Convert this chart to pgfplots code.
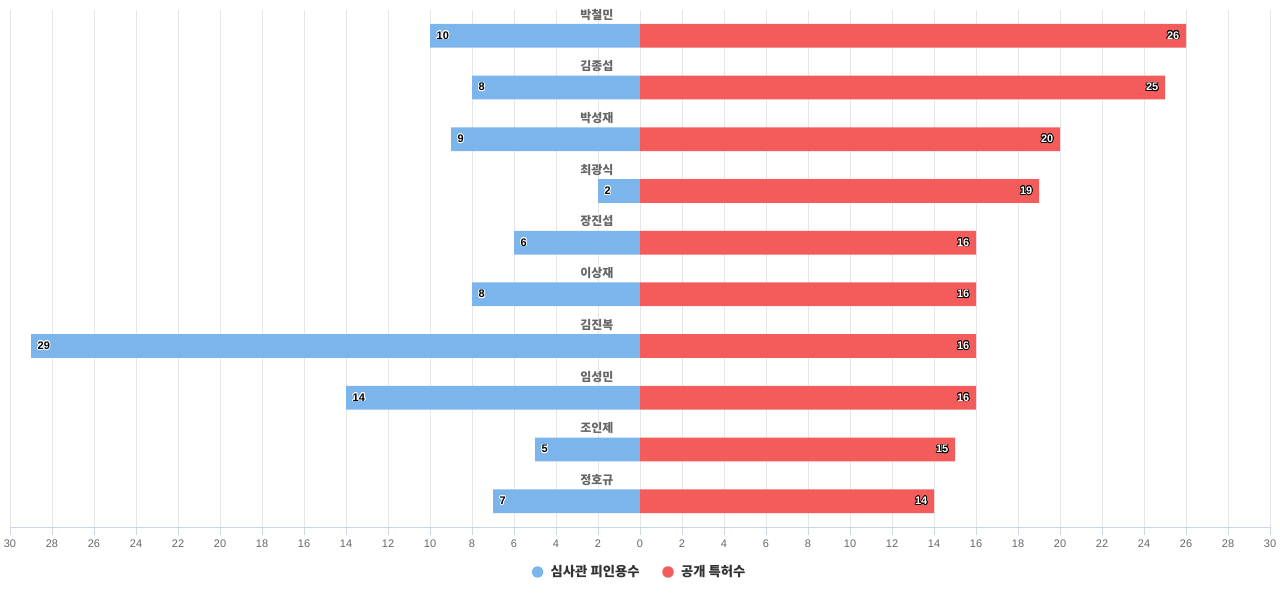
\documentclass[border=0pt]{standalone}
\usepackage{pgfplots}
\pgfplotsset{compat=1.18}
\usepackage{fontspec}
\usepackage[copies]{contour}
\setmainfont{Liberation Sans}
\newfontfamily\kr{Noto Sans CJK KR}
\definecolor{cblue}{HTML}{7CB5EC}
\definecolor{cred}{HTML}{F45B5B}
\definecolor{cgrid}{HTML}{E6E6E6}
\definecolor{caxis}{HTML}{CCD6EB}
\definecolor{ctext}{HTML}{666666}
\definecolor{clegend}{HTML}{333333}
\contourlength{0.55pt}
\begin{document}
\begin{tikzpicture}
\path[use as bounding box] (0,0) rectangle (960pt,450pt);
\begin{axis}[
  at={(7.5pt,54.75pt)}, anchor=south west,
  width=945pt, height=387.75pt, scale only axis,
  xmin=-30, xmax=30, ymin=-0.5, ymax=9.5, y dir=reverse,
  clip=false,
  axis x line*=bottom, axis y line=none,
  x axis line style={draw=caxis, line width=0.75pt},
  xtick={-30,-28,...,30},
  ytick=\empty,
  xmajorgrids, grid style={draw=cgrid, line width=0.75pt},
  tick align=outside, major tick length=6pt,
  xtick style={draw=caxis, line width=0.75pt},
  /pgf/number format/assume math mode=true,
  xticklabel={\pgfmathparse{abs(\tick)}\pgfmathprintnumber{\pgfmathresult}},
  xticklabel style={font=\fontsize{8.25}{10}\selectfont, text=ctext},
  xbar, bar width=0.46, bar shift=0pt,
  point meta=explicit,
  legend columns=2,
  legend style={at={(0.5,-0.087)}, anchor=center, draw=none, fill=none,
    font=\kr\bfseries\fontsize{10}{12}\selectfont, text=clegend,
    /tikz/every odd column/.append style={column sep=3.5pt},
    /tikz/every even column/.append style={column sep=15pt}},
]
\addplot[fill=cblue, draw=none,
  nodes near coords={\contour{white}{\pgfmathprintnumber{\pgfplotspointmeta}}},
  every node near coord/.append style={anchor=west, xshift=1.5pt, text=black, font=\bfseries\fontsize{8.25}{10}\selectfont},
  legend image code/.code={\fill[cblue] (0pt,0pt) circle (4.3pt);}]
coordinates {
(-10,0) [10]
(-8,1) [8]
(-9,2) [9]
(-2,3) [2]
(-6,4) [6]
(-8,5) [8]
(-29,6) [29]
(-14,7) [14]
(-5,8) [5]
(-7,9) [7]
};
\addlegendentry{심사관 피인용수}
\addplot[fill=cred, draw=none,
  nodes near coords={\contour{black}{\pgfmathprintnumber{\pgfplotspointmeta}}},
  every node near coord/.append style={anchor=east, xshift=-1.5pt, text=white, font=\bfseries\fontsize{8.25}{10}\selectfont},
  legend image code/.code={\fill[cred] (0pt,0pt) circle (4.3pt);}]
coordinates {
(26,0) [26]
(25,1) [25]
(20,2) [20]
(19,3) [19]
(16,4) [16]
(16,5) [16]
(16,6) [16]
(16,7) [16]
(15,8) [15]
(14,9) [14]
};
\addlegendentry{공개 특허수}
\foreach \n/\i in {박철민/0,김종섭/1,박성재/2,최광식/3,장진섭/4,이상재/5,김진복/6,임성민/7,조인제/8,정호규/9}{
  \edef\temp{\noexpand\node[font=\noexpand\kr\noexpand\bfseries\noexpand\fontsize{9}{10}\noexpand\selectfont, text=ctext] at (axis cs:-2.05,\i-0.41) {\n};}
  \temp
}
\end{axis}
\end{tikzpicture}
\end{document}
